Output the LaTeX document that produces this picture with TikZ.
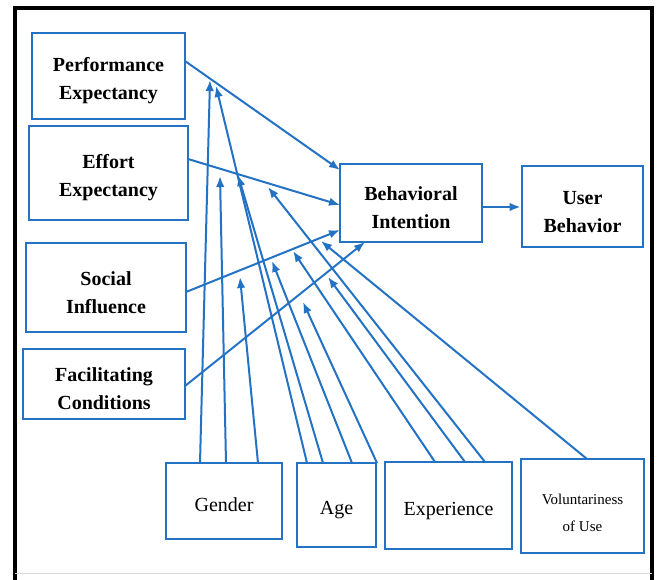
\documentclass[tikz,border=0pt]{standalone}
\usepackage{fontspec}
\setmainfont{Liberation Serif}
\usetikzlibrary{arrows.meta}
\definecolor{lineblue}{RGB}{36,114,196}
\newcommand\tup[1]{\rule{0pt}{#1pt}}
\begin{document}
\begin{tikzpicture}[x=1pt,y=-1pt,
  box/.style={draw=lineblue, line width=2.8pt, rectangle, inner sep=0pt, align=center, text=black},
  cons/.style={box, font=\fontsize{20}{28}\selectfont\bfseries},
  modr/.style={box, font=\fontsize{20}{28}\selectfont},
  conn/.style={draw=lineblue, line width=2pt, -{Latex[length=11pt,width=8.5pt]}}]
\useasboundingbox (0,0) rectangle (658,579);
\fill[white] (0,0) rectangle (658,579);
% outer frame
\draw[black, line width=3.5pt] (15,590) -- (15,8) -- (652,8) -- (652,590);
\draw[black!15, line width=1pt] (15,573) -- (652,573);
% construct boxes
\node[cons, minimum width=153pt, minimum height=86pt] (pe) at (108.5,76) {\tup{24}Performance\\Expectancy};
\node[cons, minimum width=159pt, minimum height=94pt] (ee) at (108.5,173) {\tup{24}Effort\\Expectancy};
\node[cons, minimum width=160pt, minimum height=89pt] (si) at (106,287.5) {\tup{24}Social\\Influence};
\node[cons, minimum width=162pt, minimum height=70pt] (fc) at (104,384) {\tup{24}Facilitating\\Conditions};
\node[cons, minimum width=142pt, minimum height=78pt] (bi) at (411,203) {\tup{24}Behavioral\\Intention};
\node[cons, minimum width=121pt, minimum height=81pt] (ub) at (582.5,206.5) {\tup{24}User\\Behavior};
% moderator boxes
\node[modr, minimum width=116pt, minimum height=76pt] (gen) at (224,501) {\tup{22}Gender};
\node[modr, minimum width=79pt, minimum height=84pt] (age) at (336.5,505) {\tup{24}Age};
\node[modr, minimum width=127pt, minimum height=87pt] (exp) at (448.5,505.5) {\tup{24}Experience};
\node[box, minimum width=123pt, minimum height=94pt, font=\fontsize{15}{27}\selectfont] (vol) at (582.5,506) {\tup{24}Voluntariness\\of Use};
% start / end coordinates of main paths
\coordinate (peo) at (185,61);
\coordinate (eeo) at (188,159);
\coordinate (sio) at (186,292);
\coordinate (fco) at (185,386);
\coordinate (bipe) at (340,170);
\coordinate (biee) at (340,205);
\coordinate (bisi) at (340,230);
\coordinate (bifc) at (365,242);
% main paths
\draw[conn] (peo) -- (bipe);
\draw[conn] (eeo) -- (biee);
\draw[conn] (sio) -- (bisi);
\draw[conn] (fco) -- (bifc);
\draw[conn] (bi.east |- 0,207) coordinate (bio) -- (ub.west |- bio);
% moderator start points
\coordinate (g1) at (200,463);
\coordinate (g2) at (226,463);
\coordinate (g3) at (258,463);
\coordinate (a1) at (307,463);
\coordinate (a2) at (323,463);
\coordinate (a3) at (352,463);
\coordinate (a4) at (377,463);
\coordinate (x1) at (435,462);
\coordinate (x2) at (465,462);
\coordinate (x3) at (485,462);
\coordinate (v1) at (587,459);
% moderator end points
\coordinate (tgpe) at (210,80);
\coordinate (tape) at (216,86);
\coordinate (tgee) at (220,176);
\coordinate (taee) at (238,175);
\coordinate (txee) at (268,187);
\coordinate (tgsi) at (240,277);
\coordinate (tasi) at (272,261);
\coordinate (txsi) at (293,251);
\coordinate (tvsi) at (321,241);
\coordinate (tafc) at (303,302);
\coordinate (txfc) at (328,277);
% moderator paths
\draw[conn] (g1) -- (tgpe);
\draw[conn] (g2) -- (tgee);
\draw[conn] (g3) -- (tgsi);
\draw[conn] (a1) -- (tape);
\draw[conn] (a2) -- (taee);
\draw[conn] (a3) -- (tasi);
\draw[conn] (a4) -- (tafc);
\draw[conn] (x1) -- (txsi);
\draw[conn] (x2) -- (txfc);
\draw[conn] (x3) -- (txee);
\draw[conn] (v1) -- (tvsi);
\end{tikzpicture}
\end{document}
